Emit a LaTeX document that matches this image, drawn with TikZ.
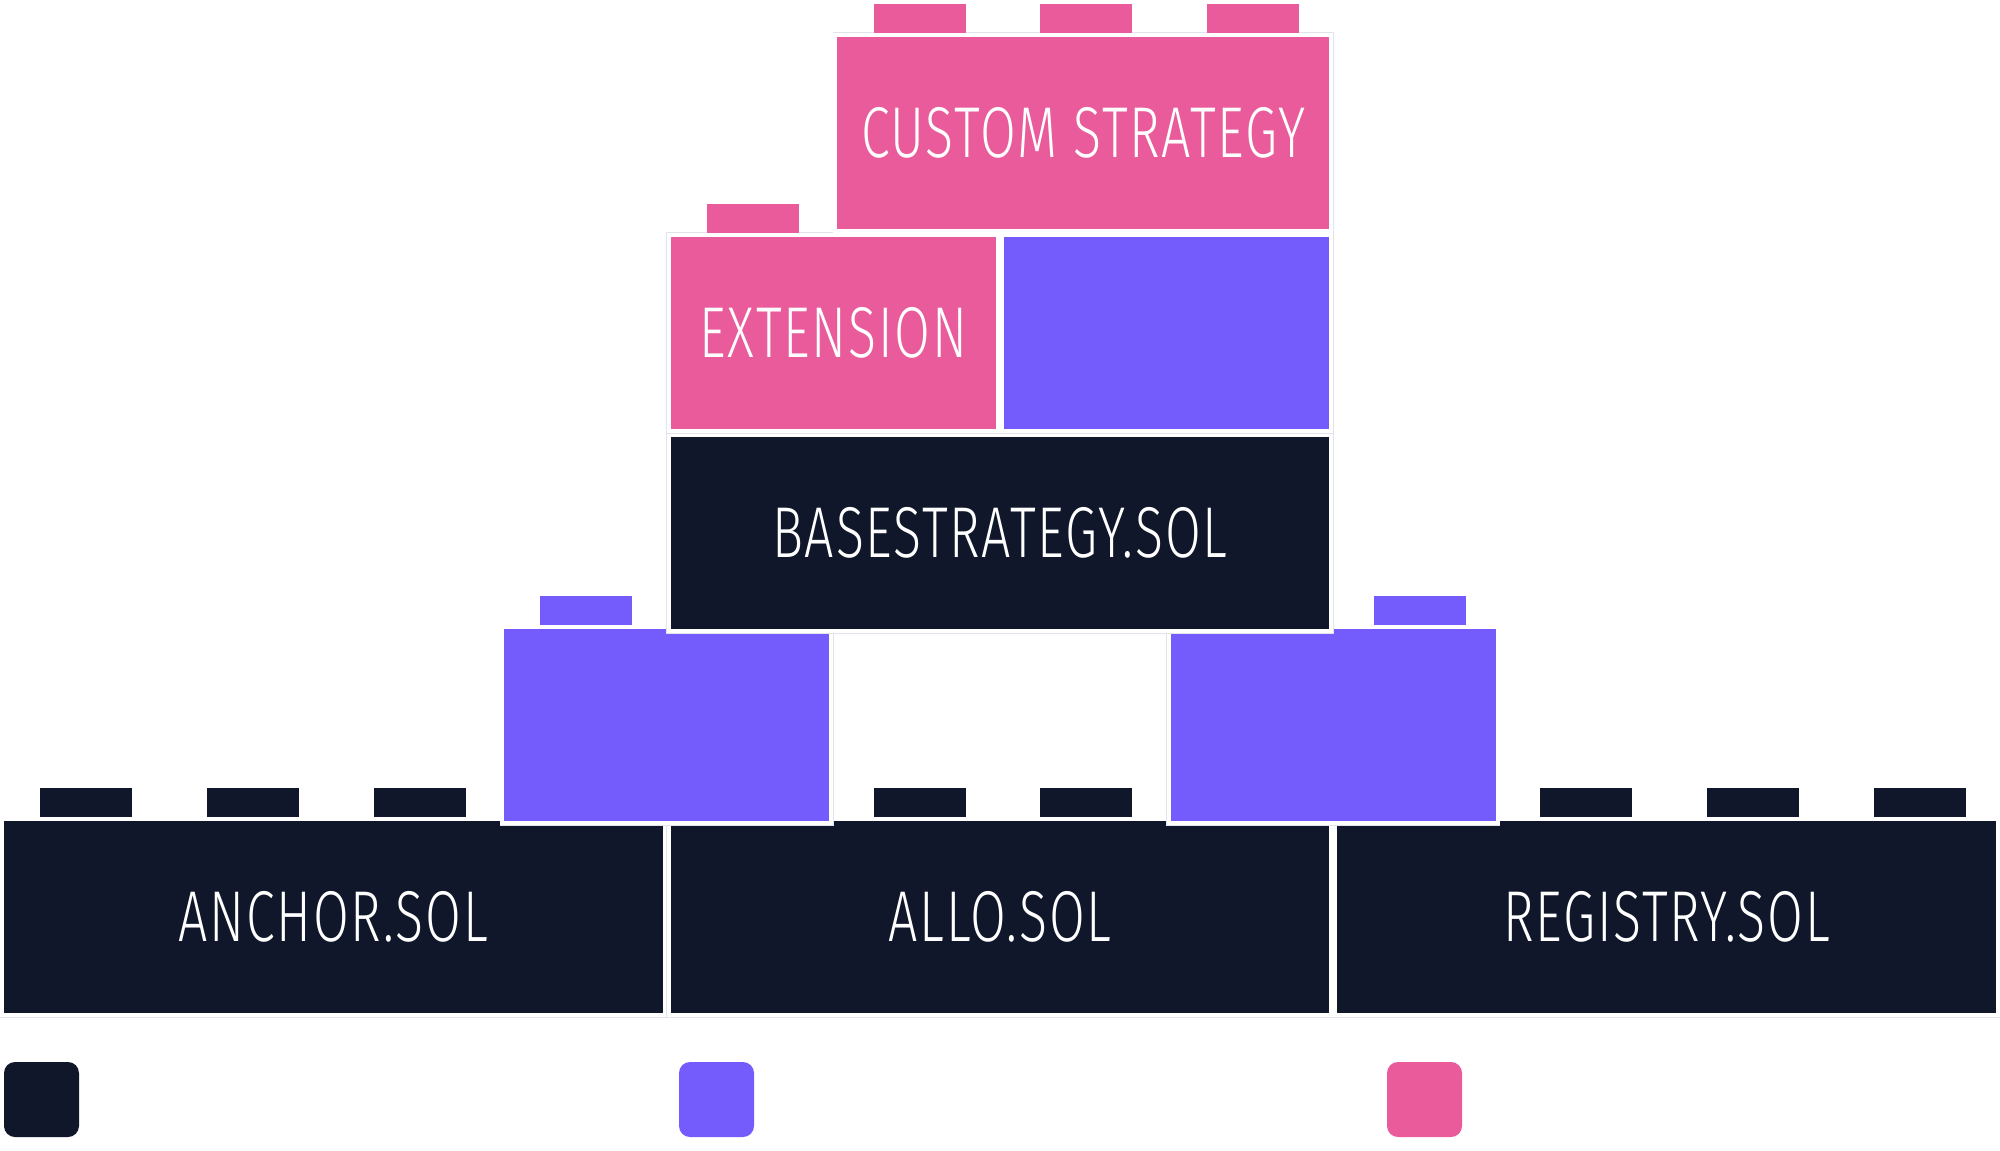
\documentclass[tikz,border=0pt]{standalone}
\usepackage{fontspec}
\newfontfamily\lblfont{Fira Sans Light}[FakeStretch=0.72, LetterSpace=2.5]
\definecolor{navy}{HTML}{10172A}
\definecolor{violet}{HTML}{735CFB}
\definecolor{pink}{HTML}{E95B9B}
\definecolor{edge}{HTML}{E2E4EC}
\tikzset{
  block/.style={rectangle, inner sep=0pt, draw=white, line width=2pt,
    preaction={draw=edge, line width=2.5pt},
    text=white, font=\lblfont\fontsize{36}{36}\selectfont},
  full/.style={minimum width=331.35pt, minimum height=98pt},
  half/.style={minimum width=164.65pt, minimum height=98pt},
  wide/.style={minimum width=248pt, minimum height=98pt},
  stud/.style={rectangle, inner sep=0pt, minimum width=46pt, minimum height=14.75pt},
  legend/.style={rectangle, inner sep=0pt, minimum size=37.5pt, rounded corners=5.5pt}
}
\begin{document}
\begin{tikzpicture}[x=0.5pt, y=-0.5pt]
\useasboundingbox[fill=white] (0,0) rectangle (2000,1150);
% bottom row
\node[block, full, fill=navy] (anchor) at (333.3,917) {ANCHOR.SOL};
\node[block, full, fill=navy] (allo) at (1000,917) {ALLO.SOL};
\node[block, full, fill=navy] (registry) at (1666.7,917) {REGISTRY.SOL};
\foreach \i/\x in {1/86.3,2/253,3/419.7,4/919.7,5/1086.3,6/1586.3,7/1753,8/1919.7}
  \node[stud, fill=navy] (b\i) at (\x,802.4) {};
% purple second row
\node[block, half, fill=violet] (pl) at (666.7,725) {};
\node[block, half, fill=violet] (pr) at (1333.3,725) {};
\node[stud, fill=violet] (pls) at (586.3,610.4) {};
\node[stud, fill=violet] (prs) at (1419.7,610.4) {};
% base strategy
\node[block, full, fill=navy] (base) at (1000,533) {BASESTRATEGY.SOL};
% extension row
\node[block, half, fill=pink] (ext) at (833.3,333) {EXTENSION};
\node[block, half, fill=violet] (ptr) at (1166.7,333) {};
\node[stud, fill=pink] (exts) at (753,218.4) {};
% custom strategy
\node[block, wide, fill=pink] (custom) at (1083.3,133) {CUSTOM STRATEGY};
\foreach \i/\x in {1/919.7,2/1086.3,3/1253}
  \node[stud, fill=pink] (c\i) at (\x,18.4) {};
% legend
\node[legend, fill=navy] (lg1) at (41.5,1099.5) {};
\node[legend, fill=violet] (lg2) at (716.5,1099.5) {};
\node[legend, fill=pink] (lg3) at (1424.5,1099.5) {};
\end{tikzpicture}
\end{document}
